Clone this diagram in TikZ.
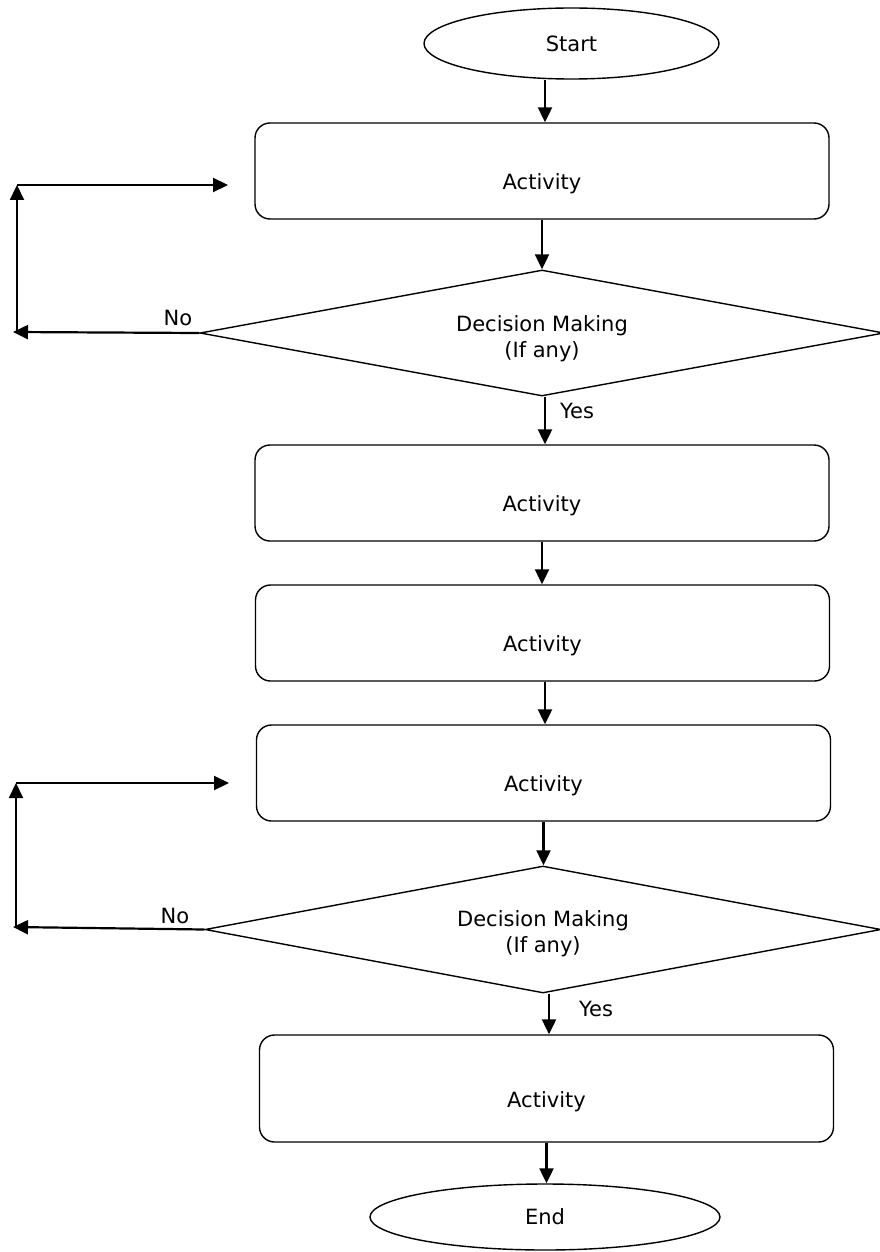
\documentclass[tikz,border=0pt]{standalone}
\usepackage{fontspec}
\setmainfont{DejaVu Sans}
\usetikzlibrary{shapes.geometric,arrows.meta}
\begin{document}
\begin{tikzpicture}[x=1pt,y=-1pt,
  every node/.style={font=\fontsize{21pt}{26pt}\selectfont},
  term/.style={draw,ellipse,line width=1.4pt,inner sep=0pt},
  actbox/.style={draw,rounded corners=15pt,line width=1.4pt,minimum width=574pt,minimum height=96pt,inner sep=0pt,
    label={[yshift=-13pt]center:Activity}},
  decbox/.style={draw,diamond,line width=1.4pt,inner sep=0pt},
  arr/.style={line width=2.2pt,-{Triangle[length=15pt,width=14pt]}},
  lbl/.style={inner sep=0pt}
]
\useasboundingbox (0,0) rectangle (880,1252);

\node[term,minimum width=295pt,minimum height=71pt] (s) at (571.5,43.5) {Start};
\node[actbox] (a1) at (542,171) {};
\node[decbox,minimum width=684pt,minimum height=126pt] (d1) at (542,333) {};
\node[lbl,align=center] at (542,339) {Decision Making\\(If any)};
\node[actbox] (a2) at (542,493) {};
\node[actbox] (a3) at (542.5,633) {};
\node[actbox] (a4) at (543.5,773) {};
\node[decbox,minimum width=676pt,minimum height=127pt] (d2) at (543,929.5) {};
\node[lbl,align=center] at (543,934) {Decision Making\\(If any)};
\node[actbox,minimum height=107pt] (a5) at (546.5,1088.5) {};
\node[term,minimum width=350pt,minimum height=66pt] (e) at (545,1217) {End};

\coordinate (l1a) at (13,332);
\coordinate (l1b) at (17,331);
\coordinate (l1c) at (17,185);
\coordinate (l1d) at (228,185);
\coordinate (l2a) at (13,927);
\coordinate (l2b) at (16,926);
\coordinate (l2c) at (16,783);
\coordinate (l2d) at (229,783);

\draw[arr] ([xshift=-26.5pt]s.south) -- ([xshift=3pt]a1.north);
\draw[arr] (a1.south) -- (d1.north);
\draw[arr] ([xshift=3pt]d1.south) -- ([xshift=3pt]a2.north);
\draw[arr] (a2.south) -- ([xshift=-0.5pt]a3.north);
\draw[arr] ([xshift=2.5pt]a3.south) -- ([xshift=1.5pt]a4.north);
\draw[arr] (a4.south) -- ([xshift=0.5pt]d2.north);
\draw[arr] ([xshift=6pt]d2.south) -- ([xshift=2.5pt]a5.north);
\draw[arr] (a5.south) -- (a5.south |- e.north);

\draw[arr] (d1.west) -- (l1a);
\draw[arr] (l1b) -- (l1c);
\draw[arr] (l1c) -- (l1d);
\draw[arr] (d2.west) -- (l2a);
\draw[arr] (l2b) -- (l2c);
\draw[arr] (l2c) -- (l2d);

\node[lbl] at (178,318) {No};
\node[lbl] at (175,916) {No};
\node[lbl] at (577,411) {Yes};
\node[lbl] at (596,1009) {Yes};
\end{tikzpicture}
\end{document}
